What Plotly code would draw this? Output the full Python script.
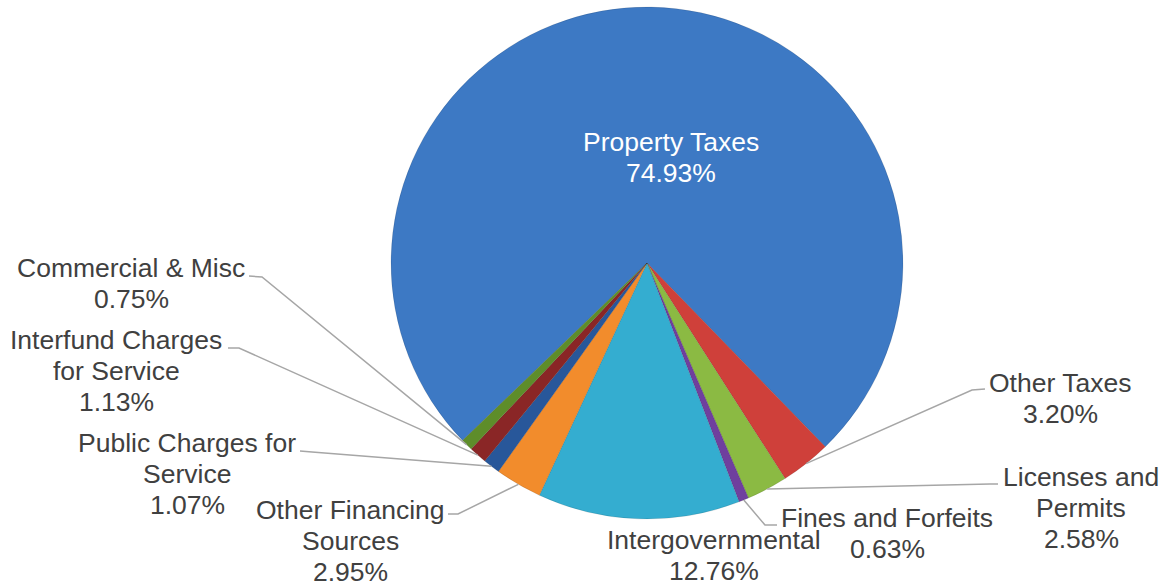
import math
import plotly.graph_objects as go

# ---- data ----
categories = ["Property Taxes", "Other Taxes", "Licenses and Permits", "Fines and Forfeits",
              "Intergovernmental", "Other Financing Sources", "Public Charges for Service",
              "Interfund Charges for Service", "Commercial & Misc"]
values = [74.93, 3.20, 2.58, 0.63, 12.76, 2.95, 1.07, 1.13, 0.75]
label_lines = [["Property Taxes"], ["Other Taxes"], ["Licenses and", "Permits"],
               ["Fines and Forfeits"], ["Intergovernmental"], ["Other Financing", "Sources"],
               ["Public Charges for", "Service"], ["Interfund Charges", "for Service"],
               ["Commercial & Misc"]]

# ---- style / layout ----
colors = ["#3D79C4", "#CF403A", "#8BBA43", "#6F3F9E", "#34ADD0", "#F28C2C",
          "#28579A", "#8A2626", "#5E8D2A"]
W, H = 1166, 586
CX, CY, R = 647, 263, 256
ROT = 226.1
FONT = "Liberation Sans, Arial, sans-serif"
FS = 26.5
LSP = 31
# label block centre (x, y of first line), in pixels
label_pos = [(671, 142), (1060, 383), (1081, 477), (887, 518), (714, 540),
             (350, 510), (187, 443), (116, 340), (131, 268)]
# leader stub (start near text, elbow) in pixels; None = no leader
leader = [None, ((985, 389), (972, 390)), ((998, 484), (990, 484)), ((777, 525), (765, 525)),
          None, ((448, 514), (458, 514)), ((300, 451), (312, 452)), ((228, 348), (239, 348)),
          ((249, 276), (262, 277))]


def px(x):
    return x / W


def py(y):
    return 1 - y / H


fig = go.Figure(go.Pie(
    labels=categories, values=values, sort=False, direction="clockwise",
    rotation=ROT, textinfo="none", hoverinfo="label+percent",
    marker=dict(colors=colors, line=dict(color="rgba(0,0,0,0.18)", width=0.6)),
    domain=dict(x=[px(CX - R), px(CX + R)], y=[py(CY + R), py(CY - R)]),
    showlegend=False,
))

total = sum(values)
annotations = []
shapes = []
cum = 0.0
for i, (cat, v) in enumerate(zip(categories, values)):
    mid = ROT + (cum + v / 2) / total * 360.0
    cum += v
    a = math.radians(mid)
    ex, ey = CX + R * math.sin(a), CY - R * math.cos(a)
    lines = label_lines[i] + [f"{v:.2f}%"]
    lx, ly = label_pos[i]
    col = "#FFFFFF" if i == 0 else "#404040"
    for k, t in enumerate(lines):
        annotations.append(dict(x=px(lx), y=py(ly + k * LSP), xref="paper", yref="paper",
                                text=t, showarrow=False, xanchor="center", yanchor="middle",
                                font=dict(family=FONT, size=FS, color=col)))
    if leader[i] is not None:
        (sx, sy), (bx, by) = leader[i]
        path = f"M {px(sx)},{py(sy)} L {px(bx)},{py(by)} L {px(ex)},{py(ey)}"
        shapes.append(dict(type="path", path=path, xref="paper", yref="paper",
                           line=dict(color="#A6A6A6", width=1.5)))

fig.update_layout(width=W, height=H, margin=dict(l=0, r=0, t=0, b=0),
                  paper_bgcolor="white", plot_bgcolor="white",
                  annotations=annotations, shapes=shapes)
fig.write_html("out.html", config={"displayModeBar": False},
               post_script="document.body.style.margin='0';")
